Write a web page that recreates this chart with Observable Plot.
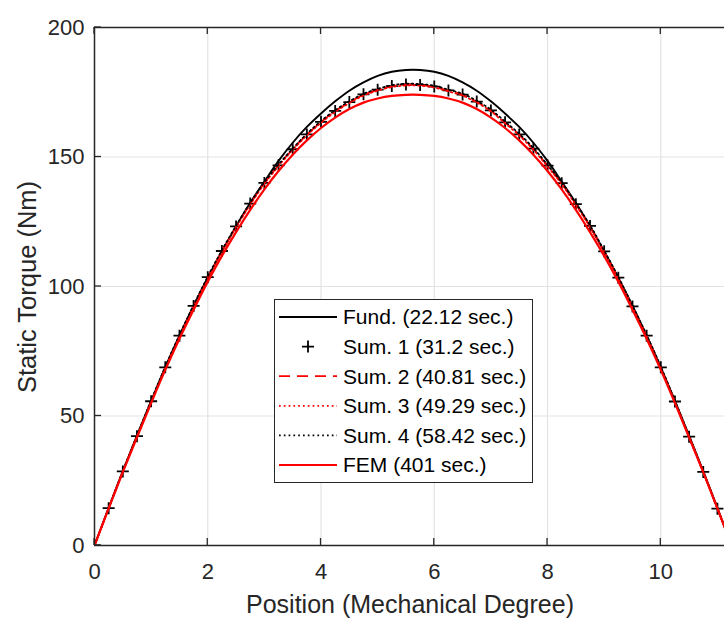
<!DOCTYPE html>
<html><head><meta charset="utf-8">
<script src="https://cdn.jsdelivr.net/npm/d3@7"></script>
<script src="https://cdn.jsdelivr.net/npm/@observablehq/plot@0.6"></script>
<style>body{margin:0;background:#fff;} svg{display:block;}</style>
</head><body><div id="chart"></div>
<script>
// ---- data ----
const positions = [0,0.25,0.5,0.75,1,1.25,1.5,1.75,2,2.25,2.5,2.75,3,3.25,3.5,3.75,4,4.25,4.5,4.75,5,5.25,5.5,5.75,6,6.25,6.5,6.75,7,7.25,7.5,7.75,8,8.25,8.5,8.75,9,9.25,9.5,9.75,10,10.25,10.5,10.75,11,11.25];
const fund = [0,14.5,28.7,42.4,55.8,68.8,81.0,92.6,103.4,113.6,123.2,132.3,140.5,148.5,155.5,161.6,166.8,171.5,175.6,178.8,181.3,182.9,183.6,183.6,182.9,181.3,178.8,175.6,171.5,166.8,161.6,155.5,148.5,140.5,132.3,123.2,113.6,103.4,92.6,81.0,68.8,55.8,42.4,28.7,14.5,0];
const sum1 = [0,14.4,28.6,42.2,55.7,68.8,81.0,92.5,103.6,113.7,123.2,132.0,140.0,146.8,153.0,158.7,163.6,167.8,171.2,174.2,176.0,177.4,178.0,177.8,177.2,175.7,174.1,171.4,168.0,163.4,158.7,153.2,146.7,139.9,131.8,123.4,113.6,103.4,92.3,81.0,68.8,55.6,42.0,28.4,14.2,0];
const sum2 = [0,14.4,28.6,42.2,55.6,68.7,80.9,92.4,103.5,113.6,123.1,131.9,139.9,146.8,153.0,158.6,163.5,167.7,171.1,174.0,175.9,177.3,177.9,177.8,177.1,175.6,174.0,171.3,167.9,163.3,158.6,153.1,146.6,139.8,131.7,123.3,113.5,103.3,92.2,80.9,68.7,55.5,41.9,28.3,14.2,0];
const sum3 = [0,14.3,28.5,42.0,55.4,68.5,80.6,92.1,103.2,113.3,122.8,131.6,139.6,146.5,152.7,158.3,163.2,167.4,170.8,173.7,175.6,177.0,177.6,177.5,176.8,175.3,173.7,171.0,167.6,163.0,158.3,152.8,146.3,139.5,131.4,123.0,113.2,103.0,91.9,80.6,68.4,55.3,41.7,28.2,14.1,0];
const sum4 = [0,14.5,28.8,42.5,56.0,69.1,81.3,92.8,103.9,114.0,123.5,132.3,140.3,147.1,153.3,159.0,163.9,168.1,171.5,174.4,176.3,177.7,178.3,178.2,177.5,176.0,174.4,171.7,168.3,163.7,159.0,153.5,147.0,140.2,132.1,123.7,113.9,103.7,92.6,81.3,69.1,55.9,42.3,28.6,14.4,0];
const fem = [0,14.3,28.3,41.8,55.0,67.8,79.8,91.0,101.8,111.8,121.0,129.6,137.5,144.6,150.9,156.4,161.2,165.2,168.5,171.0,172.6,173.6,174.0,174.0,173.6,172.6,171.0,168.5,165.2,161.2,156.4,150.9,144.6,137.5,129.6,121.0,111.8,101.8,91.0,79.8,67.8,55.0,41.8,28.3,14.3,0];
const xTicks = [0,2,4,6,8,10];
const yTicks = [0,50,100,150,200];
const legendLabels = ["Fund. (22.12 sec.)","Sum. 1 (31.2 sec.)","Sum. 2 (40.81 sec.)","Sum. 3 (49.29 sec.)","Sum. 4 (58.42 sec.)","FEM (401 sec.)"];
const xLabel = "Position (Mechanical Degree)";
const yLabel = "Static Torque (Nm)";

// ---- layout ----
const W = 724, H = 619, mL = 94, mT = 27, mB = 74, mR = 0;
const ink = "#262626";
const FONT = "'Liberation Sans', Arial, Helvetica, sans-serif";
const TICK = 7;

const rows = positions.map((x, i) => ({x, fund: fund[i], sum1: sum1[i], sum2: sum2[i], sum3: sum3[i], sum4: sum4[i], fem: fem[i]}));

const plusSymbol = {draw(ctx) { const r = 6; ctx.moveTo(-r, 0); ctx.lineTo(r, 0); ctx.moveTo(0, -r); ctx.lineTo(0, r); }};

const styles = [
  {key: "fund", stroke: "#000", strokeWidth: 1.9, dash: null},
  {key: "sum1", marker: true},
  {key: "sum2", stroke: "#ff0000", strokeWidth: 1.8, dash: "11,7"},
  {key: "sum3", stroke: "#ff0000", strokeWidth: 1.7, dash: "1.7,3.1"},
  {key: "sum4", stroke: "#000", strokeWidth: 1.7, dash: "1.7,3.1"},
  {key: "fem", stroke: "#ff0000", strokeWidth: 2.2, dash: null}
];

const dataMarks = styles.map(s => s.marker
  ? Plot.dot(rows, {x: "x", y: s.key, symbol: plusSymbol, stroke: "#000", fill: "none", strokeWidth: 1.8, clip: true})
  : Plot.lineY(rows, {x: "x", y: s.key, stroke: s.stroke, strokeWidth: s.strokeWidth, strokeDasharray: s.dash, curve: "catmull-rom", clip: true}));

const chart = Plot.plot({
  width: W, height: H,
  marginLeft: mL, marginRight: mR, marginTop: mT, marginBottom: mB,
  x: {domain: [0, 11.125]},
  y: {domain: [0, 200]},
  style: {fontFamily: FONT, fontSize: "22px", color: ink, background: "#fff", overflow: "visible"},
  marks: [
    Plot.gridX(xTicks.filter(d => d > 0), {stroke: "#e3e3e3", strokeOpacity: 1, strokeWidth: 1.2}),
    Plot.gridY(yTicks.filter(d => d > 0 && d < 200), {stroke: "#e3e3e3", strokeOpacity: 1, strokeWidth: 1.2}),
    ...dataMarks,
    Plot.ruleX([0], {stroke: ink, strokeWidth: 1.5}),
    Plot.ruleY([0, 200], {stroke: ink, strokeWidth: 1.5}),
    Plot.axisY(yTicks, {anchor: "left", tickSize: 0, tickPadding: 10, label: null, fill: ink, fontSize: 22}),
    Plot.axisX(xTicks, {anchor: "bottom", tickSize: 0, tickPadding: 18, label: null, fill: ink, fontSize: 22})
  ]
});

const svg = d3.select(chart);
const sx = chart.scale("x"), sy = chart.scale("y");
const yTop = sy.apply(200), yBot = sy.apply(0), xLeft = sx.apply(0);
// inward ticks (MATLAB style) on bottom, top and left
const tg = svg.append("g").attr("stroke", ink).attr("stroke-width", 1.3);
xTicks.forEach(v => {
  const px = sx.apply(v);
  tg.append("line").attr("x1", px).attr("x2", px).attr("y1", yBot).attr("y2", yBot - TICK);
  tg.append("line").attr("x1", px).attr("x2", px).attr("y1", yTop).attr("y2", yTop + TICK);
});
yTicks.forEach(v => {
  const py = sy.apply(v);
  tg.append("line").attr("x1", xLeft).attr("x2", xLeft + TICK).attr("y1", py).attr("y2", py);
});

// axis titles
svg.append("text").attr("x", 410).attr("y", 613).attr("text-anchor", "middle")
  .attr("font-family", FONT).attr("font-size", 25).attr("fill", ink).text(xLabel);
svg.append("text").attr("transform", "translate(36,287) rotate(-90)").attr("text-anchor", "middle")
  .attr("font-family", FONT).attr("font-size", 25.5).attr("fill", ink).text(yLabel);

// legend
const lg = svg.append("g");
lg.append("rect").attr("x", 274.5).attr("y", 299.5).attr("width", 258).attr("height", 183)
  .attr("fill", "#fff").attr("stroke", ink).attr("stroke-width", 1);
legendLabels.forEach((lab, i) => {
  const y = 317 + i * 29.6;
  const s = styles[i];
  if (s.marker) {
    lg.append("path").attr("d", `M${308 - 6},${y}H${308 + 6}M308,${y - 6}V${y + 6}`)
      .attr("stroke", "#000").attr("stroke-width", 1.8).attr("fill", "none");
  } else {
    lg.append("line").attr("x1", 279).attr("x2", 337).attr("y1", y).attr("y2", y)
      .attr("stroke", s.stroke).attr("stroke-width", s.strokeWidth).attr("stroke-dasharray", s.dash);
  }
  lg.append("text").attr("x", 343).attr("y", y).attr("dy", "0.35em").attr("text-anchor", "start")
    .attr("font-family", FONT).attr("font-size", 21).attr("fill", "#000").text(lab);
});

document.getElementById("chart").appendChild(chart);
</script>
</body></html>
